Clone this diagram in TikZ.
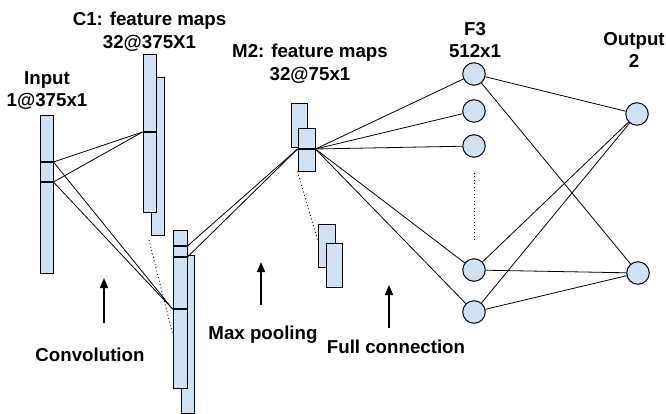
\documentclass[tikz,border=0pt]{standalone}
\usepackage{fontspec}
\setmainfont{Liberation Sans}
\usetikzlibrary{arrows.meta,positioning}
\definecolor{fm}{HTML}{CFE2F3}
\tikzset{
  bar/.style={draw=black,fill=fm,line width=0.9pt,inner sep=0pt,minimum width=13pt,minimum height=158pt},
  blk/.style={draw=black,fill=fm,line width=0.9pt,inner sep=0pt,minimum width=17pt,minimum height=43pt},
  unit/.style={circle,draw=black,fill=fm,line width=1pt,inner sep=0pt,minimum size=22.5pt},
  lbl/.style={font=\fontsize{18.7}{22.5}\selectfont\bfseries,align=center,inner sep=0pt,anchor=north},
  cut/.style={line width=2pt},
  wire/.style={line width=0.8pt},
  dots/.style={line width=0.9pt,dash pattern=on 0.9pt off 2.6pt},
  ar/.style={-{Triangle[length=10pt,width=8pt]},line width=1.6pt},
}

\begin{document}
\begin{tikzpicture}[x=1pt,y=-1pt]
\useasboundingbox (0,0) rectangle (666,414);

\node[lbl] (tin) at (47,71) {Input\\1@375x1};
\node[lbl] (tc1) at (149.5,12) {C1: feature maps\\32@375X1};
\node[lbl] (tm2) at (310,44) {M2: feature maps\\32@75x1};
\node[lbl] (tf3) at (475,22) {F3\\512x1};
\node[lbl] (tout) at (634,32) {Output\\2};
\node[lbl] (tconv) at (90,348) {Convolution};
\node[lbl] (tpool) at (263,326) {Max pooling};
\node[lbl] (tfull) at (396,340) {Full connection};

% input and C1 maps
\node[bar] (in) at (46.5,194) {};
\node[bar] (c1b) at (157.5,156) {};
\node[bar] (c1a) at (149.5,133) {};
\node[bar] (c1d) at (187.5,334.5) {};
\node[bar,minimum width=14pt] (c1c) at (180,309.5) {};

\draw[cut] (in.west |- 0,162) -- (in.east |- 0,162) coordinate (i1);
\draw[cut] (in.west |- 0,182) -- (in.east |- 0,182) coordinate (i2);
\draw[cut] (c1a.west |- 0,132) coordinate (c1p) -- (c1a.east |- 0,132);
\draw[cut] (c1c.west |- 0,246) -- (c1c.east |- 0,246) coordinate (k1);
\draw[cut] (c1c.west |- 0,257) -- (c1c.east |- 0,257) coordinate (k2);
\draw[cut] (c1c.west |- 0,309) coordinate (c1q) -- (c1c.east |- 0,309);

% M2 maps
\node[blk,minimum width=16pt,minimum height=44pt] (m2b) at (299,125) {};
\node[blk] (m2a) at (306.5,149.5) {};
\node[blk] (m2d) at (326.5,245.5) {};
\node[blk,minimum width=16pt,minimum height=44pt] (m2c) at (334,265) {};
\draw[cut] (m2a.west |- 0,149) coordinate (m2l) -- (m2a.east |- 0,149) coordinate (m2r);

% F3 and output units
\node[unit] (f1) at (474,74) {};
\node[unit] (f2) at (474,111) {};
\node[unit] (f3) at (474,146) {};
\node[unit] (f4) at (474,270) {};
\node[unit] (f5) at (474,312) {};
\node[unit] (o1) at (637,114) {};
\node[unit] (o2) at (638,273) {};

\foreach \i in {i1,i2} {
  \draw[wire] (\i) -- (c1p);
  \draw[wire] (\i) -- (c1q);
}
\draw[wire] (k1) -- (m2l);
\draw[wire] (k2) -- (m2l);
\foreach \f in {f1,f2,f3,f4,f5}
  \draw[wire] (m2r) -- (\f);
\foreach \f in {f1,f4,f5}
  \foreach \o in {o1,o2}
    \draw[wire] (\f) -- (\o);

\coordinate (c1dot) at (149,240);
\draw[dots] (c1dot) -- (c1c.west |- 0,334);
\draw[dots] (m2a.south west) -- (m2d.west |- 0,240);
\draw[dots] ([yshift=-15pt]f3.south) -- ([yshift=18pt]f4.north);

\coordinate (a1) at (104,323);
\coordinate (a1t) at (104,278);
\coordinate (a2) at (261,305);
\coordinate (a2t) at (261,262);
\coordinate (a3) at (389,328);
\coordinate (a3t) at (389,285);
\draw[ar] (a1) -- (a1t);
\draw[ar] (a2) -- (a2t);
\draw[ar] (a3) -- (a3t);
\end{tikzpicture}
\end{document}
